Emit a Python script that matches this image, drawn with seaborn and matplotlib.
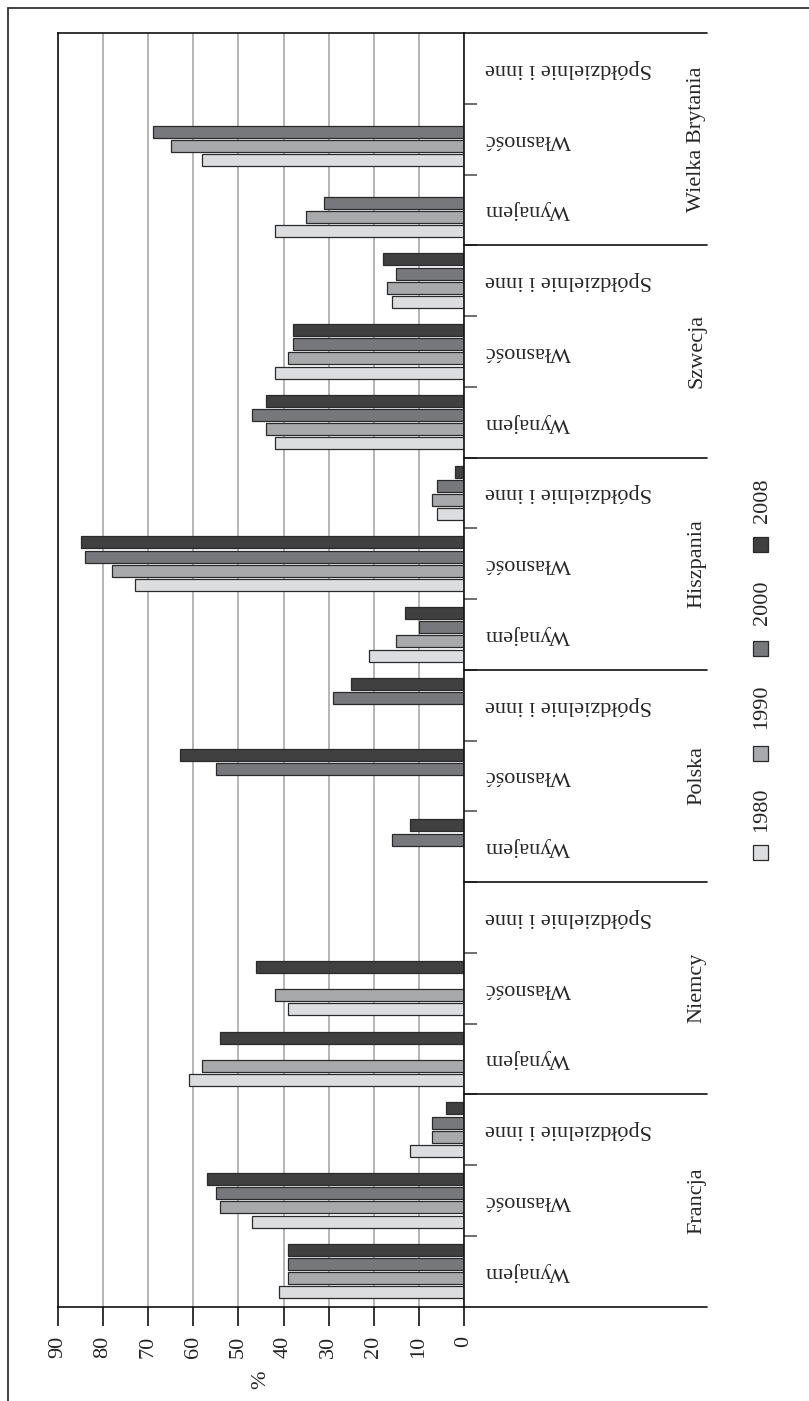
import numpy as np
import pandas as pd
import matplotlib
matplotlib.use("Agg")
import matplotlib.pyplot as plt
import seaborn as sns
from matplotlib.lines import Line2D
from matplotlib.patches import Rectangle

countries = ["Francja", "Niemcy", "Polska", "Hiszpania", "Szwecja", "Wielka Brytania"]
tenures = ["Wynajem", "Własność", "Spółdzielnie i inne"]
years = ["1980", "1990", "2000", "2008"]
nan = np.nan
# order: per country -> Wynajem, Własność, Spółdzielnie i inne
v1980 = [41, 47, 12, 61, 39, nan, nan, nan, nan, 21, 73, 6, 42, 42, 16, 42, 58, nan]
v1990 = [39, 54, 7, 58, 42, nan, nan, nan, nan, 15, 78, 7, 44, 39, 17, 35, 65, nan]
v2000 = [39, 55, 7, nan, nan, nan, 16, 55, 29, 10, 84, 6, 47, 38, 15, 31, 69, nan]
v2008 = [39, 57, 4, 54, 46, nan, 12, 63, 25, 13, 85, 2, 44, 38, 18, nan, nan, nan]
colors = ["#dcdddf", "#a8a9ab", "#77787b", "#404040"]

slots = [f"{c}|{t}" for c in countries for t in tenures]
rows = []
for yr, vals in zip(years, [v1980, v1990, v2000, v2008]):
    for s, v in zip(slots, vals):
        if not np.isnan(v):
            rows.append({"slot": s, "year": yr, "value": v})
df = pd.DataFrame(rows)

sns.set_style("white")
FAM = ["Liberation Serif", "DejaVu Serif"]
plt.rcParams["font.family"] = FAM
plt.rcParams["font.size"] = 16

W, H = 809, 1401
fig = plt.figure(figsize=(W / 100, H / 100), dpi=100)
L, R, T, B = 58, 464, 33, 1306.5
ax = fig.add_axes([L / W, 1 - B / H, (R - L) / W, (B - T) / H])

sns.barplot(data=df, x="value", y="slot", hue="year", order=slots, hue_order=years,
            palette=colors, orient="h", width=0.8, gap=0.15, edgecolor="#2a2a2a",
            linewidth=0.9, legend=False, errorbar=None, ax=ax)

ax.set_xlim(90, 0)
ax.set_ylim(-0.5, len(slots) - 0.5)
ax.set_axisbelow(True)
ax.grid(axis="x", color="#a8a8a8", linewidth=1.2)
ax.grid(axis="y", visible=False)
for sp in ax.spines.values():
    sp.set_color("#111111")
    sp.set_linewidth(1.2)

ax.set_xticks(range(0, 91, 10))
ax.set_xticklabels([str(v) for v in range(0, 91, 10)], rotation=90, family=FAM)
ax.tick_params(axis="x", which="major", bottom=True, top=False, length=14, width=1.2,
               color="#111111", pad=7, labelsize=16, direction="out")
ax.set_xlabel("%", rotation=90, labelpad=9, fontsize=16, family=FAM)
ax.set_ylabel("")

ax.yaxis.tick_right()
ax.set_yticks(range(len(slots)))
ax.set_yticklabels([t for c in countries for t in tenures], rotation=180, fontsize=16,
                   family=FAM)
for lab in ax.get_yticklabels():
    lab.set_va("center")
    lab.set_ha("left")
ax.set_yticks(np.arange(0.5, len(slots) - 1, 1), minor=True)
ax.tick_params(axis="y", which="major", length=0, pad=15, right=True, left=False)
ax.tick_params(axis="y", which="minor", length=9.4, width=1.2, color="#555555",
               right=True, left=False, direction="out")

ytr = ax.get_yaxis_transform()
xext = (707 - L) / (R - L)
for b in np.arange(-0.5, len(slots), 3):
    ax.add_line(Line2D([1, xext], [b, b], transform=ytr, color="#111111",
                       linewidth=1.2, clip_on=False))
for i, c in enumerate(countries):
    ax.text((697 - L) / (R - L), 3 * i + 1, c, transform=ytr, rotation=90,
            ha="center", va="center", fontsize=16, family=FAM, clip_on=False)

# outer frame
fig.add_artist(Line2D([8 / W, 8 / W], [0, 1 - 8 / H], transform=fig.transFigure,
                      color="#333333", linewidth=1.3))
fig.add_artist(Line2D([8 / W, 1], [1 - 8 / H, 1 - 8 / H], transform=fig.transFigure,
                      color="#333333", linewidth=1.3))

# legend (rotated)
sq_c = [852, 753, 648, 545]
tx_c = [810, 707, 603, 501]
for yr, col, sc, tc in zip(years, colors, sq_c, tx_c):
    fig.add_artist(Rectangle((753 / W, 1 - (sc + 7.5) / H), 15 / W, 15 / H,
                             transform=fig.transFigure, facecolor=col,
                             edgecolor="#2a2a2a", linewidth=0.9))
    fig.text(762 / W, 1 - tc / H, yr, rotation=90, ha="center", va="center",
             fontsize=16, family=FAM)

fig.savefig("out.png", dpi=100)
